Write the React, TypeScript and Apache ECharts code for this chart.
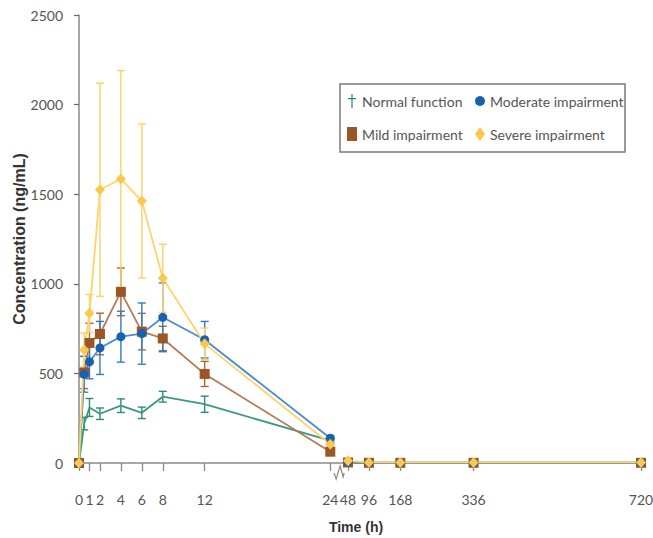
import React, { useEffect, useRef } from "react";
import * as echarts from "echarts";

// ---- data (time in hours, concentration in ng/mL) ----
const times = [0, 0.5, 1, 2, 4, 6, 8, 12, 24, 48, 96, 168, 336, 720];
const tickTimes = [0, 1, 2, 4, 6, 8, 12, 24, 48, 96, 168, 336, 720];
const tickLabels = ["0", "1", "2", "4", "6", "8", "12", "24", "48", "96", "168", "336", "720"];

const normalMean = [0, 220, 310, 275, 320, 280, 370, 328, 125, 3, 2, 2, 2, 2];
const normalSd = [0, 35, 50, 32, 38, 32, 30, 45, 12, 0, 0, 0, 0, 0];
const moderateMean = [0, 495, 565, 642, 705, 722, 813, 688, 138, 5, 2, 2, 2, 2];
const moderateSd = [0, 100, 95, 148, 142, 171, 192, 102, 15, 0, 0, 0, 0, 0];
const mildMean = [0, 505, 670, 720, 955, 733, 695, 497, 63, 3, 1, 1, 1, 1];
const mildSd = [0, 90, 110, 116, 133, 102, 68, 70, 20, 0, 0, 0, 0, 0];
const severeMean = [0, 630, 835, 1525, 1585, 1462, 1031, 665, 105, 12, 3, 3, 3, 3];
const severeSd = [0, 95, 105, 595, 605, 430, 190, 88, 15, 0, 0, 0, 0, 0];

// ---- broken time scale ----
const BREAK_AT = 24;
const RESUME_AT = 48;
const RESUME_POS = 25.69;
const POST_SCALE = 0.04164;
const toAxis = (t: number) => (t <= BREAK_AT ? t : RESUME_POS + (t - RESUME_AT) * POST_SCALE);
const BREAK_MID = (toAxis(BREAK_AT) + RESUME_POS) / 2;

const LABEL_FONT = "Lato, 'Open Sans', sans-serif";
const DAGGER = "path://M4.4,0 H5.6 V4 H9 V5.2 H5.6 V14 H4.4 V5.2 H1 V4 H4.4 Z";

function lineData(mean: number[]) {
  const out: any[] = [];
  times.forEach((t, i) => {
    if (t === RESUME_AT) out.push([BREAK_MID, "-"]);
    out.push([toAxis(t), mean[i]]);
  });
  return out;
}

function errData(mean: number[], sd: number[]) {
  const out: number[][] = [];
  times.forEach((t, i) => {
    if (sd[i] > 0) out.push([toAxis(t), mean[i] - sd[i], mean[i] + sd[i]]);
  });
  return out;
}

function errSeries(name: string, mean: number[], sd: number[], color: string) {
  return {
    type: "custom",
    name,
    data: errData(mean, sd),
    encode: { x: 0, y: [1, 2] },
    renderItem: (params: any, api: any) => {
      const x = api.value(0);
      const p1 = api.coord([x, api.value(2)]);
      const p2 = api.coord([x, api.value(1)]);
      const w = 4;
      const style = { stroke: color, lineWidth: 1.4 };
      return {
        type: "group",
        children: [
          { type: "line", shape: { x1: p1[0], y1: p1[1], x2: p2[0], y2: p2[1] }, style },
          { type: "line", shape: { x1: p1[0] - w, y1: p1[1], x2: p1[0] + w, y2: p1[1] }, style },
          { type: "line", shape: { x1: p2[0] - w, y1: p2[1], x2: p2[0] + w, y2: p2[1] }, style },
        ],
      };
    },
  };
}

function lineSeries(name: string, mean: number[], lineColor: string, markColor: string, symbol: string, size: number | number[], showSymbol = true) {
  return {
    type: "line",
    name,
    data: lineData(mean),
    symbol,
    symbolSize: size,
    showSymbol,
    connectNulls: false,
    lineStyle: { color: lineColor, width: 1.8 },
    itemStyle: { color: markColor },
  };
}

export default function App() {
  const ref = useRef<HTMLDivElement>(null);
  useEffect(() => {
    if (!ref.current) return;
    const chart = echarts.init(ref.current, undefined, { renderer: "svg" });
    const tickPos = tickTimes.map(toAxis);
    const labelFor = (v: number) => {
      const i = tickPos.findIndex((p) => Math.abs(p - v) < 1e-6);
      return i >= 0 ? tickLabels[i] : "";
    };
    const option: any = {
      animation: false,
      backgroundColor: "#ffffff",
      grid: { left: 79, right: 12, top: 15, bottom: 75, outerBoundsMode: "none", containLabel: false },
      xAxis: {
        type: "value",
        min: 0,
        max: toAxis(720),
        offset: 10,
        axisLine: { show: true, lineStyle: { color: "#8a8a8a", width: 1.5 } },
        axisTick: { show: true, length: 8, customValues: tickPos, lineStyle: { color: "#8a8a8a", width: 1.3 } },
        axisLabel: {
          customValues: tickPos,
          formatter: (v: number) => labelFor(v),
          margin: 19,
          fontSize: 14,
          color: "#555555",
          fontFamily: LABEL_FONT,
        },
        splitLine: { show: false },
        name: "Time (h)",
        nameLocation: "middle",
        nameGap: 47,
        nameMoveOverlap: false,
        nameTextStyle: {
          fontSize: 14,
          fontWeight: "bold",
          color: "#333333",
          fontFamily: "'Liberation Sans', Arial, sans-serif",
          padding: [0, 8, 0, 0],
        },
      },
      yAxis: {
        type: "value",
        min: 0,
        max: 2500,
        interval: 500,
        offset: 7,
        axisLine: { show: true, lineStyle: { color: "#8a8a8a", width: 1.5 } },
        axisTick: { show: true, length: 5, lineStyle: { color: "#666", width: 1.2 } },
        axisLabel: {
          margin: 9,
          fontSize: 14,
          color: "#555555",
          fontFamily: LABEL_FONT,
          formatter: (v: number) => String(v),
        },
        splitLine: { show: false },
        name: "Concentration (ng/mL)",
        nameLocation: "middle",
        nameGap: 45,
        nameMoveOverlap: false,
        nameTextStyle: {
          fontSize: 16,
          fontWeight: "bold",
          color: "#333333",
          fontFamily: "'Liberation Sans', Arial, sans-serif",
        },
      },
      legend: [
        {
          orient: "vertical",
          left: 347,
          top: 94,
          padding: 0,
          itemGap: 19,
          itemWidth: 10,
          itemHeight: 14,
          textStyle: { fontSize: 14, color: "#555", fontFamily: LABEL_FONT },
          data: [
            { name: "Normal function", icon: DAGGER },
            { name: "Mild impairment", icon: "rect" },
          ],
        },
        {
          orient: "vertical",
          left: 475,
          top: 94,
          padding: 0,
          itemGap: 19,
          itemWidth: 10,
          itemHeight: 14,
          textStyle: { fontSize: 14, color: "#555", fontFamily: LABEL_FONT },
          data: [
            { name: "Moderate impairment", icon: "circle" },
            { name: "Severe impairment", icon: "diamond" },
          ],
        },
      ],
      series: [
        errSeries("Normal SD", normalMean, normalSd, "#2a8c74"),
        lineSeries("Normal function", normalMean, "#3a9880", "#1f8a6e", DAGGER, [6, 10], false),
        errSeries("Mild SD", mildMean, mildSd, "#a8683a"),
        lineSeries("Mild impairment", mildMean, "#b27c56", "#9c5626", "rect", 10),
        errSeries("Moderate SD", moderateMean, moderateSd, "#2f7cc6"),
        lineSeries("Moderate impairment", moderateMean, "#4a8bd0", "#1463b2", "circle", 9),
        errSeries("Severe SD", severeMean, severeSd, "#fdd064"),
        lineSeries("Severe impairment", severeMean, "#fdd46e", "#fcc84c", "diamond", [10, 11]),
      ],
    };
    chart.setOption(option);

    const bx = chart.convertToPixel({ xAxisIndex: 0 }, BREAK_MID) as number;
    const by = (chart.convertToPixel({ yAxisIndex: 0 }, 0) as number) + 10;
    chart.setOption({
      graphic: [
        { type: "rect", z: 100, shape: { x: bx - 5, y: by - 2, width: 10, height: 4 }, style: { fill: "#ffffff" } },
        {
          type: "polyline",
          z: 101,
          shape: { points: [[bx - 5, by], [bx - 3, by + 6], [bx + 1, by - 7], [bx + 4, by + 4], [bx + 5, by]] },
          style: { stroke: "#8a8a8a", lineWidth: 1.2, fill: null },
        },
        {
          type: "rect",
          z: 90,
          shape: { x: 340, y: 84, width: 285, height: 68 },
          style: { fill: null, stroke: "#7a7a7a", lineWidth: 1.5 },
        },
      ],
    });
    return () => chart.dispose();
  }, []);
  return <div ref={ref} style={{ position: "fixed", left: 0, top: 0, width: 653, height: 538 }} />;
}
